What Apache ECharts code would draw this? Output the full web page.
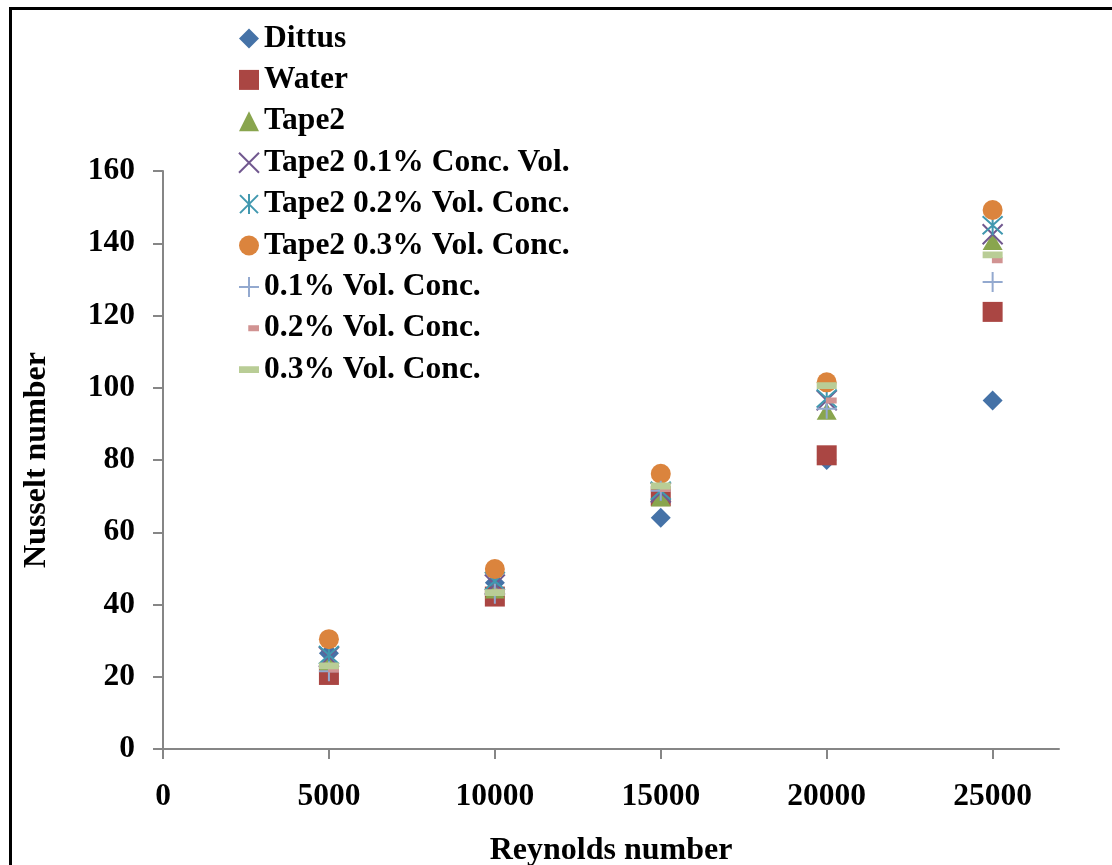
<!DOCTYPE html>
<html>
<head>
<meta charset="utf-8">
<title>Nusselt number vs Reynolds number</title>
<script src="https://cdn.jsdelivr.net/npm/echarts@6/dist/echarts.min.js"></script>
<style>
  html, body { margin: 0; padding: 0; background: #fff; }
  #chart { width: 1112px; height: 865px; }
</style>
</head>
<body>
<div id="chart"></div>
<script>
// Reynolds numbers tested
const reynolds = [5000, 10000, 15000, 20000, 25000];

// Nusselt numbers per case
const dittus      = [26.5, 46.0, 64.0, 80.0, 96.5];
const water       = [20.5, 42.2, 70.0, 81.3, 121.0];
const tape2       = [24.0, 44.0, 69.5, 93.5, 140.5];
const tape2c01    = [25.5, 45.5, 71.0, 96.5, 142.5];
const tape2c02    = [26.0, 46.5, 71.5, 97.0, 145.0];
const tape2c03    = [30.4, 49.8, 76.2, 101.5, 149.2];
const conc01      = [21.5, 43.0, 71.5, 94.2, 129.3];
const conc02      = [22.0, 43.5, 72.0, 96.5, 135.3];
const conc03      = [23.0, 43.3, 72.8, 100.6, 136.8];

const seriesNames = [
  'Dittus', 'Water', 'Tape2',
  'Tape2 0.1% Conc. Vol.', 'Tape2 0.2% Vol. Conc.', 'Tape2 0.3% Vol. Conc.',
  '0.1% Vol. Conc.', '0.2% Vol. Conc.', '0.3% Vol. Conc.'
];
const seriesValues = [dittus, water, tape2, tape2c01, tape2c02, tape2c03, conc01, conc02, conc03];

// Axis ticks
const xTicks = [0, 5000, 10000, 15000, 20000, 25000];
const yTicks = [0, 20, 40, 60, 80, 100, 120, 140, 160];

const FONT = '"Liberation Serif", "Times New Roman", serif';

// Marker shapes (20x20 boxes; zero-length segments pin the bounding box)
const PIN = 'M0,0 L0,0.01 M20,20 L20,20.01 ';
const SYM_X = 'path://M1,1 L19,19 M19,1 L1,19';
const SYM_STAR = 'path://M1,1 L19,19 M19,1 L1,19 M10,0 L10,20';
const SYM_PLUS = 'path://M0,10 L20,10 M10,0 L10,20';
const SYM_SHORT_DASH = 'path://' + PIN + 'M9.5,7 L20.5,7 L20.5,13 L9.5,13 Z';
const SYM_DASH = 'path://' + PIN + 'M0,6.6 L20,6.6 L20,13.4 L0,13.4 Z';

const styles = [
  { symbol: 'diamond', size: 20, fill: '#4572A7' },
  { symbol: 'rect', size: 20, fill: '#AA4643' },
  { symbol: 'triangle', size: [20, 17], fill: '#89A54E' },
  { symbol: SYM_X, size: 20, stroke: '#71588F' },
  { symbol: SYM_STAR, size: 20, stroke: '#4198AF' },
  { symbol: 'circle', size: 20, fill: '#DB843D' },
  { symbol: SYM_PLUS, size: 20, stroke: '#93A9CF' },
  { symbol: SYM_SHORT_DASH, size: 20, fill: '#D19392' },
  { symbol: SYM_DASH, size: 20, fill: '#B9CD96' }
];

const series = seriesNames.map((name, i) => {
  const st = styles[i];
  const itemStyle = st.stroke
    ? { color: 'rgba(0,0,0,0)', borderColor: st.stroke, borderWidth: 2, opacity: 1 }
    : { color: st.fill, borderWidth: 0, opacity: 1 };
  return {
    name: name,
    type: 'scatter',
    symbol: st.symbol,
    symbolSize: st.size,
    itemStyle: itemStyle,
    emphasis: { disabled: true },
    data: reynolds.map((x, j) => [x, seriesValues[i][j]])
  };
});

const chart = echarts.init(document.getElementById('chart'), null, { renderer: 'canvas' });
chart.setOption({
  animation: false,
  backgroundColor: '#fff',
  textStyle: { fontFamily: FONT },
  grid: { left: 163, right: 53, top: 171, bottom: 116, containLabel: false, outerBoundsMode: 'none' },
  legend: {
    orient: 'vertical',
    left: 238,
    top: 22.5,
    padding: 0,
    itemWidth: 20,
    itemHeight: 20,
    itemGap: 9.4,
    selectedMode: false,
    textStyle: { fontFamily: FONT, fontWeight: 'bold', fontSize: 31.5, color: '#000', lineHeight: 31, padding: [0, 0, 0, 0] },
    data: seriesNames
  },
  xAxis: {
    type: 'value',
    min: 0,
    max: 27000,
    interval: 5000,
    name: 'Reynolds number',
    nameLocation: 'middle',
    nameGap: 86,
    nameTextStyle: { fontFamily: FONT, fontWeight: 'bold', fontSize: 32, color: '#000' },
    axisLine: { show: true, lineStyle: { color: '#868686', width: 2 } },
    axisTick: { show: true, length: 10, lineStyle: { color: '#868686', width: 2 }, customValues: xTicks },
    axisLabel: {
      margin: 32, fontFamily: FONT, fontWeight: 'bold', fontSize: 31.5, color: '#000',
      customValues: xTicks,
      formatter: (v) => String(v)
    },
    splitLine: { show: false }
  },
  yAxis: {
    type: 'value',
    min: 0,
    max: 160,
    interval: 20,
    name: 'Nusselt number',
    nameLocation: 'middle',
    nameGap: 110,
    nameTextStyle: { fontFamily: FONT, fontWeight: 'bold', fontSize: 32, color: '#000' },
    axisLine: { show: true, lineStyle: { color: '#868686', width: 2 } },
    axisTick: { show: true, length: 10, lineStyle: { color: '#868686', width: 2 }, customValues: yTicks },
    axisLabel: {
      margin: 28, fontFamily: FONT, fontWeight: 'bold', fontSize: 31.5, color: '#000',
      customValues: yTicks, padding: [6, 0, 0, 0],
      formatter: (v) => String(v)
    },
    splitLine: { show: false }
  },
  graphic: [
    {
      type: 'rect',
      silent: true,
      z: 100,
      shape: { x: 10.5, y: 8.5, width: 1200, height: 1000 },
      style: { fill: 'none', stroke: '#000', lineWidth: 3 }
    }
  ],
  series: series
});
</script>
</body>
</html>
